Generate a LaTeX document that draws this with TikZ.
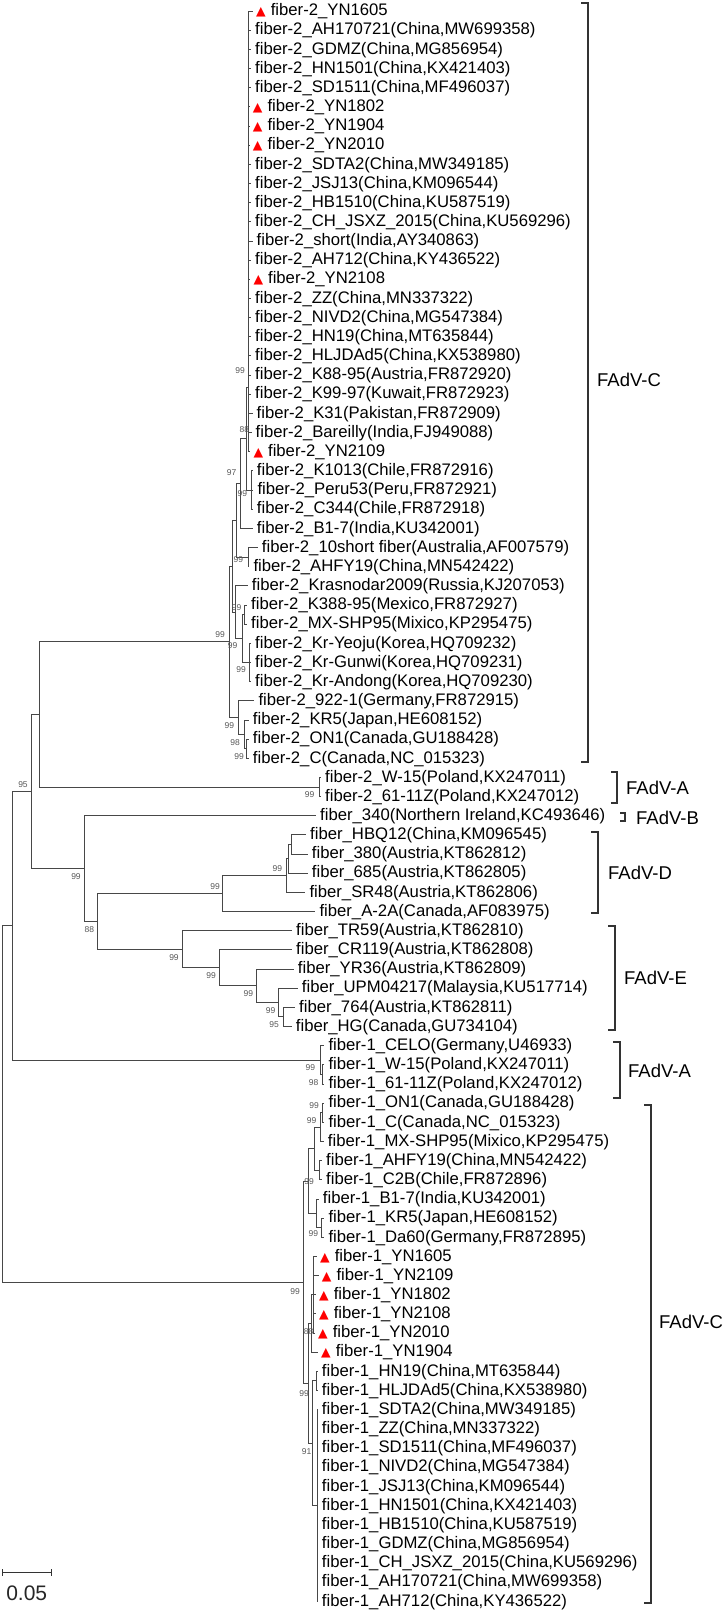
\documentclass[tikz,border=0pt]{standalone}
\usepackage{fontspec}
\setmainfont{Liberation Sans}
\newfontfamily\symf{DejaVu Sans}
\newcommand{\Y}[1]{(8.5+19.16*(#1-1))}
\newcommand{\redtri}{{\symf\fontsize{12.5}{12.5}\selectfont\textcolor{red}{▲}}\hspace{5pt}}
\newcommand{\leafA}[3]{\node[lf] (l#1) at (#2,{\Y{#1}}) {#3};}
\newcommand{\leafT}[3]{\node[tlf] (l#1) at (#2,{\Y{#1}}) {\redtri #3};}
\tikzset{
  br/.style={draw=black!72, line width=0.85pt},
  lf/.style={anchor=west, inner xsep=4pt, inner ysep=0pt, text height=12.5pt, text depth=3pt, font=\fontsize{16.7}{18}\selectfont},
  tlf/.style={lf, inner xsep=3pt},
  bs/.style={inner sep=0pt, text=black!65, font=\fontsize{8.5}{9}\selectfont},
  grp/.style={anchor=west, inner sep=0pt, font=\fontsize{18.5}{20}\selectfont},
  brk/.style={draw=black!80, line width=1.2pt},
}
\begin{document}
\begin{tikzpicture}[x=1pt,y=-1pt]
\fill[white] (0,0) rectangle (727,1610);
\path[use as bounding box] (0,0) rectangle (727,1610);
\begin{scope}[yshift=-2.5pt]
% ---------- leaves ----------
\leafT{1}{253}{fiber-2\_YN1605}
\leafA{2}{251}{fiber-2\_AH170721(China,MW699358)}
\leafA{3}{251}{fiber-2\_GDMZ(China,MG856954)}
\leafA{4}{251}{fiber-2\_HN1501(China,KX421403)}
\leafA{5}{251}{fiber-2\_SD1511(China,MF496037)}
\leafT{6}{249.7}{fiber-2\_YN1802}
\leafT{7}{249.7}{fiber-2\_YN1904}
\leafT{8}{249.7}{fiber-2\_YN2010}
\leafA{9}{251}{fiber-2\_SDTA2(China,MW349185)}
\leafA{10}{251}{fiber-2\_JSJ13(China,KM096544)}
\leafA{11}{251}{fiber-2\_HB1510(China,KU587519)}
\leafA{12}{251}{fiber-2\_CH\_JSXZ\_2015(China,KU569296)}
\leafA{13}{252.5}{fiber-2\_short(India,AY340863)}
\leafA{14}{251}{fiber-2\_AH712(China,KY436522)}
\leafT{15}{250.3}{fiber-2\_YN2108}
\leafA{16}{251}{fiber-2\_ZZ(China,MN337322)}
\leafA{17}{251}{fiber-2\_NIVD2(China,MG547384)}
\leafA{18}{251}{fiber-2\_HN19(China,MT635844)}
\leafA{19}{251}{fiber-2\_HLJDAd5(China,KX538980)}
\leafA{20}{251}{fiber-2\_K88-95(Austria,FR872920)}
\leafA{21}{251}{fiber-2\_K99-97(Kuwait,FR872923)}
\leafA{22}{252.5}{fiber-2\_K31(Pakistan,FR872909)}
\leafA{23}{251.5}{fiber-2\_Bareilly(India,FJ949088)}
\leafT{24}{250.3}{fiber-2\_YN2109}
\leafA{25}{252.7}{fiber-2\_K1013(Chile,FR872916)}
\leafA{26}{253.3}{fiber-2\_Peru53(Peru,FR872921)}
\leafA{27}{252.7}{fiber-2\_C344(Chile,FR872918)}
\leafA{28}{252.7}{fiber-2\_B1-7(India,KU342001)}
\leafA{29}{257.7}{fiber-2\_10short fiber(Australia,AF007579)}
\leafA{30}{249.3}{fiber-2\_AHFY19(China,MN542422)}
\leafA{31}{247.7}{fiber-2\_Krasnodar2009(Russia,KJ207053)}
\leafA{32}{247}{fiber-2\_K388-95(Mexico,FR872927)}
\leafA{33}{247}{fiber-2\_MX-SHP95(Mixico,KP295475)}
\leafA{34}{251}{fiber-2\_Kr-Yeoju(Korea,HQ709232)}
\leafA{35}{251}{fiber-2\_Kr-Gunwi(Korea,HQ709231)}
\leafA{36}{251}{fiber-2\_Kr-Andong(Korea,HQ709230)}
\leafA{37}{254.3}{fiber-2\_922-1(Germany,FR872915)}
\leafA{38}{248.7}{fiber-2\_KR5(Japan,HE608152)}
\leafA{39}{248.7}{fiber-2\_ON1(Canada,GU188428)}
\leafA{40}{248.7}{fiber-2\_C(Canada,NC\_015323)}
\leafA{41}{321}{fiber-2\_W-15(Poland,KX247011)}
\leafA{42}{321}{fiber-2\_61-11Z(Poland,KX247012)}
\leafA{43}{316}{fiber\_340(Northern Ireland,KC493646)}
\leafA{44}{306}{fiber\_HBQ12(China,KM096545)}
\leafA{45}{307.7}{fiber\_380(Austria,KT862812)}
\leafA{46}{307.7}{fiber\_685(Austria,KT862805)}
\leafA{47}{305.3}{fiber\_SR48(Austria,KT862806)}
\leafA{48}{315.3}{fiber\_A-2A(Canada,AF083975)}
\leafA{49}{292}{fiber\_TR59(Austria,KT862810)}
\leafA{50}{292}{fiber\_CR119(Austria,KT862808)}
\leafA{51}{293.7}{fiber\_YR36(Austria,KT862809)}
\leafA{52}{297.7}{fiber\_UPM04217(Malaysia,KU517714)}
\leafA{53}{295}{fiber\_764(Austria,KT862811)}
\leafA{54}{291.7}{fiber\_HG(Canada,GU734104)}
\leafA{55}{324.3}{fiber-1\_CELO(Germany,U46933)}
\leafA{56}{324.3}{fiber-1\_W-15(Poland,KX247011)}
\leafA{57}{324.3}{fiber-1\_61-11Z(Poland,KX247012)}
\leafA{58}{324.3}{fiber-1\_ON1(Canada,GU188428)}
\leafA{59}{324.3}{fiber-1\_C(Canada,NC\_015323)}
\leafA{60}{323.7}{fiber-1\_MX-SHP95(Mixico,KP295475)}
\leafA{61}{322}{fiber-1\_AHFY19(China,MN542422)}
\leafA{62}{322}{fiber-1\_C2B(Chile,FR872896)}
\leafA{63}{318.7}{fiber-1\_B1-7(India,KU342001)}
\leafA{64}{324.3}{fiber-1\_KR5(Japan,HE608152)}
\leafA{65}{324.3}{fiber-1\_Da60(Germany,FR872895)}
\leafT{66}{317}{fiber-1\_YN1605}
\leafT{67}{318.7}{fiber-1\_YN2109}
\leafT{68}{316}{fiber-1\_YN1802}
\leafT{69}{316}{fiber-1\_YN2108}
\leafT{70}{315}{fiber-1\_YN2010}
\leafT{71}{318}{fiber-1\_YN1904}
\leafA{72}{317.7}{fiber-1\_HN19(China,MT635844)}
\leafA{73}{317.7}{fiber-1\_HLJDAd5(China,KX538980)}
\leafA{74}{317.7}{fiber-1\_SDTA2(China,MW349185)}
\leafA{75}{317.7}{fiber-1\_ZZ(China,MN337322)}
\leafA{76}{317.7}{fiber-1\_SD1511(China,MF496037)}
\leafA{77}{317.7}{fiber-1\_NIVD2(China,MG547384)}
\leafA{78}{317.7}{fiber-1\_JSJ13(China,KM096544)}
\leafA{79}{317.7}{fiber-1\_HN1501(China,KX421403)}
\leafA{80}{317.7}{fiber-1\_HB1510(China,KU587519)}
\leafA{81}{317.7}{fiber-1\_GDMZ(China,MG856954)}
\leafA{82}{317.7}{fiber-1\_CH\_JSXZ\_2015(China,KU569296)}
\leafA{83}{317.7}{fiber-1\_AH170721(China,MW699358)}
\leafA{84}{317.7}{fiber-1\_AH712(China,KY436522)}
% ---------- internal nodes ----------
\coordinate (Q) at (248.5,385);
\coordinate (KPC) at (251,487.5);
\coordinate (R) at (246,436);
\coordinate (S) at (240.7,481);
\coordinate (E) at (248,554.6);
\coordinate (U) at (236,517.8);
\coordinate (M) at (244.5,612);
\coordinate (K) at (249,660.3);
\coordinate (W) at (242,636.2);
\coordinate (V) at (235.5,609.8);
\coordinate (T) at (232.5,563.8);
\coordinate (d1) at (246.7,746.2);
\coordinate (d2) at (244.5,731.8);
\coordinate (d3) at (238,715);
\coordinate (C2) at (229.5,639.4);
\coordinate (P2A) at (319,784.5);
\coordinate (N4) at (39.3,712.2);
\coordinate (D3) at (291.7,842);
\coordinate (D2) at (288.3,856.3);
\coordinate (D1) at (286,873.1);
\coordinate (Dn) at (222.7,891);
\coordinate (E4) at (283.3,1014.4);
\coordinate (E3) at (278.3,1000);
\coordinate (E2) at (256.7,983.3);
\coordinate (E1) at (219.3,965.3);
\coordinate (Ecl) at (182.7,946.7);
\coordinate (DE) at (97.7,918.9);
\coordinate (N3) at (84.3,866);
\coordinate (N2) at (31,789.1);
\coordinate (A1) at (322,1071.9);
\coordinate (Acl) at (320,1057.5);
\coordinate (N1) at (12.3,923.3);
\coordinate (ONC) at (322.7,1110.2);
\coordinate (ONCM) at (320,1124.6);
\coordinate (AC) at (319.3,1167.7);
\coordinate (F1a1) at (314.5,1146.1);
\coordinate (KD) at (321,1225.2);
\coordinate (F1a2) at (316.5,1210.8);
\coordinate (F1a) at (308,1178.5);
\coordinate (YNa) at (313.5,1292.2);
\coordinate (YNg) at (311.5,1321);
\coordinate (Hy) at (316.5,1378.4);
\coordinate (Hz) at (317,1503);
\coordinate (Hg) at (312.7,1440.7);
\coordinate (F1b) at (308.5,1380.9);
\coordinate (F1C) at (303.3,1279.7);
\coordinate (root) at (2.7,1101.5);
% ---------- branches ----------
\foreach \i in {1,...,24} {\draw[br] (Q) |- (l\i.west);}
\foreach \i in {25,26,27} {\draw[br] (KPC) |- (l\i.west);}
\draw[br] (R) |- (Q); \draw[br] (R) |- (KPC);
\draw[br] (S) |- (R); \draw[br] (S) |- (l28.west);
\draw[br] (E) |- (l29.west); \draw[br] (E) |- (l30.west);
\draw[br] (U) |- (S); \draw[br] (U) |- (E);
\draw[br] (M) |- (l32.west); \draw[br] (M) |- (l33.west);
\foreach \i in {34,35,36} {\draw[br] (K) |- (l\i.west);}
\draw[br] (W) |- (M); \draw[br] (W) |- (K);
\draw[br] (V) |- (l31.west); \draw[br] (V) |- (W);
\draw[br] (T) |- (U); \draw[br] (T) |- (V);
\draw[br] (d1) |- (l39.west); \draw[br] (d1) |- (l40.west);
\draw[br] (d2) |- (l38.west); \draw[br] (d2) |- (d1);
\draw[br] (d3) |- (l37.west); \draw[br] (d3) |- (d2);
\draw[br] (C2) |- (T); \draw[br] (C2) |- (d3);
\draw[br] (P2A) |- (l41.west); \draw[br] (P2A) |- (l42.west);
\draw[br] (N4) |- (C2); \draw[br] (N4) |- (P2A);
\draw[br] (D3) |- (l44.west); \draw[br] (D3) |- (l45.west);
\draw[br] (D2) |- (D3); \draw[br] (D2) |- (l46.west);
\draw[br] (D1) |- (D2); \draw[br] (D1) |- (l47.west);
\draw[br] (Dn) |- (D1); \draw[br] (Dn) |- (l48.west);
\draw[br] (E4) |- (l53.west); \draw[br] (E4) |- (l54.west);
\draw[br] (E3) |- (l52.west); \draw[br] (E3) |- (E4);
\draw[br] (E2) |- (l51.west); \draw[br] (E2) |- (E3);
\draw[br] (E1) |- (l50.west); \draw[br] (E1) |- (E2);
\draw[br] (Ecl) |- (l49.west); \draw[br] (Ecl) |- (E1);
\draw[br] (DE) |- (Dn); \draw[br] (DE) |- (Ecl);
\draw[br] (N3) |- (l43.west); \draw[br] (N3) |- (DE);
\draw[br] (N2) |- (N4); \draw[br] (N2) |- (N3);
\draw[br] (A1) |- (l56.west); \draw[br] (A1) |- (l57.west);
\draw[br] (Acl) |- (l55.west); \draw[br] (Acl) |- (A1);
\draw[br] (N1) |- (N2); \draw[br] (N1) |- (Acl);
\draw[br] (ONC) |- (l58.west); \draw[br] (ONC) |- (l59.west);
\draw[br] (ONCM) |- (ONC); \draw[br] (ONCM) |- (l60.west);
\draw[br] (AC) |- (l61.west); \draw[br] (AC) |- (l62.west);
\draw[br] (F1a1) |- (ONCM); \draw[br] (F1a1) |- (AC);
\draw[br] (KD) |- (l64.west); \draw[br] (KD) |- (l65.west);
\draw[br] (F1a2) |- (l63.west); \draw[br] (F1a2) |- (KD);
\draw[br] (F1a) |- (F1a1); \draw[br] (F1a) |- (F1a2);
\foreach \i in {66,...,70} {\draw[br] (YNa) |- (l\i.west);}
\draw[br] (YNg) |- (YNa); \draw[br] (YNg) |- (l71.west);
\draw[br] (Hy) |- (l72.west); \draw[br] (Hy) |- (l73.west);
\foreach \i in {74,...,84} {\draw[br] (Hz) |- (l\i.west);}
\draw[br] (Hg) |- (Hy); \draw[br] (Hg) |- (Hz);
\draw[br] (F1b) |- (YNg); \draw[br] (F1b) |- (Hg);
\draw[br] (F1C) |- (F1a); \draw[br] (F1C) |- (F1b);
\draw[br] (root) |- (N1); \draw[br] (root) |- (F1C);
\end{scope}
% ---------- bootstrap values ----------
\node[bs] (b1) at (240,371) {99};
\node[bs] (b2) at (244.3,430) {88};
\node[bs] (b3) at (231.7,472.7) {97};
\node[bs] (b4) at (242.3,493.3) {99};
\node[bs] (b5) at (238.3,559.3) {99};
\node[bs] (b6) at (220,634.3) {99};
\node[bs] (b7) at (236.7,607.7) {99};
\node[bs] (b8) at (232.7,646) {99};
\node[bs] (b9) at (241,670) {99};
\node[bs] (b10) at (229.3,725.7) {99};
\node[bs] (b11) at (235,742.3) {98};
\node[bs] (b12) at (239,756.7) {99};
\node[bs] (b13) at (309.7,794.3) {99};
\node[bs] (b14) at (23,784.3) {95};
\node[bs] (b15) at (76,876.7) {99};
\node[bs] (b16) at (89.3,930) {88};
\node[bs] (b17) at (215,886.7) {99};
\node[bs] (b18) at (277.3,868.3) {99};
\node[bs] (b19) at (174,957.3) {99};
\node[bs] (b20) at (211,976) {99};
\node[bs] (b21) at (248.3,994) {99};
\node[bs] (b22) at (270.7,1010.7) {99};
\node[bs] (b23) at (274,1025) {95};
\node[bs] (b24) at (310.3,1068) {99};
\node[bs] (b25) at (313.7,1082.5) {98};
\node[bs] (b26) at (314.2,1106) {99};
\node[bs] (b27) at (311.7,1120.5) {99};
\node[bs] (b28) at (309,1182) {99};
\node[bs] (b29) at (313.3,1234) {99};
\node[bs] (b30) at (295,1291.7) {99};
\node[bs] (b31) at (308.7,1331.7) {88};
\node[bs] (b32) at (304,1394) {99};
\node[bs] (b33) at (306.7,1451.7) {91};
% ---------- clade brackets ----------
\draw[brk] (581,3) -- (588,3) -- (588,762) -- (581,762);
\node[grp] (gC1) at (597,380) {FAdV-C};
\draw[brk] (611,772) -- (617,772) -- (617,803) -- (611,803);
\node[grp] (gA1) at (626,788) {FAdV-A};
\draw[brk] (620,813) -- (625,813) -- (625,821) -- (620,821);
\node[grp] (gB) at (636,818) {FAdV-B};
\draw[brk] (591,832) -- (598,832) -- (598,913) -- (591,913);
\node[grp] (gD) at (608,873) {FAdV-D};
\draw[brk] (608,926) -- (615,926) -- (615,1030) -- (608,1030);
\node[grp] (gE) at (624,978) {FAdV-E};
\draw[brk] (613,1042) -- (620,1042) -- (620,1098) -- (613,1098);
\node[grp] (gA2) at (628,1071) {FAdV-A};
\draw[brk] (644,1105) -- (651,1105) -- (651,1603) -- (644,1603);
\node[grp] (gC2) at (659,1322) {FAdV-C};
% ---------- scale bar ----------
\coordinate (sb1) at (2.7,1572.7);
\coordinate (sb2) at (51.7,1572.7);
\draw[draw=black!80, line width=1pt] (sb1) -- (sb2);
\draw[draw=black!80, line width=1pt] ([yshift=3.5pt]sb1) -- ([yshift=-3.5pt]sb1);
\draw[draw=black!80, line width=1pt] ([yshift=3.5pt]sb2) -- ([yshift=-3.5pt]sb2);
\node[inner sep=0pt, font=\fontsize{21}{22}\selectfont, text=black!85] (sbl) at (26.7,1593) {0.05};
\end{tikzpicture}
\end{document}
